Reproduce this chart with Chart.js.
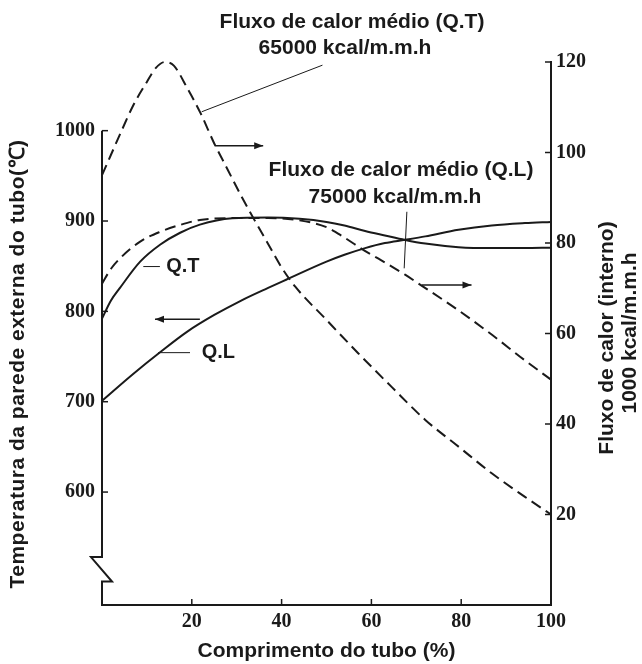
<!DOCTYPE html>
<html>
<head>
<meta charset="utf-8">
<title>Temperatura da parede externa do tubo</title>
<script src="https://cdn.jsdelivr.net/npm/chart.js@4.4.1/dist/chart.umd.min.js"></script>
<style>
    body { margin: 0; background: #fff; }
    #chart { display: block; }
</style>
</head>
<body>
<canvas id="chart" width="642" height="664"></canvas>
<script>
// marcas dos eixos
const xTicks = [20, 40, 60, 80, 100];
const tempTicks = [600, 700, 800, 900, 1000];
const fluxTicks = [20, 40, 60, 80, 100, 120];

// fluxo de calor Q.T (tracejado, eixo direito)
const qtFluxX = [0, 2, 4, 7, 10, 12, 14, 16, 19, 22, 25, 28, 31, 34, 37, 40, 43, 50, 57, 64.5, 72, 79.4, 86.8, 94.2, 100];
const qtFluxY = [95, 99.5, 104, 110.5, 115.6, 118.7, 120, 119.2, 114.2, 108.6, 102, 96.2, 90.4, 85, 79.8, 74.6, 70.4, 63, 55.7, 48.2, 40.9, 35, 29.1, 23.9, 20];

// fluxo de calor Q.L (tracejado, eixo direito)
const qlFluxX = [0, 2, 4, 8.5, 13, 17.4, 21.8, 29, 37, 44, 50, 54, 58, 63, 67.5, 71, 79, 87, 94, 100];
const qlFluxY = [71, 74.3, 76.6, 80.3, 82.5, 84, 85.1, 85.5, 85.5, 85, 83.5, 81.2, 78.6, 75.7, 73, 70.7, 65.4, 59.6, 54.2, 49.8];

// temperatura da parede com Q.T (linha cheia, eixo esquerdo)
const qtTempX = [0, 2, 4, 8.5, 13, 17.4, 21.8, 29, 37, 44, 50, 54, 58.6, 63, 67.5, 72, 79.4, 86.8, 94, 100];
const qtTempY = [792, 812, 826, 855, 874, 887, 896, 903, 904, 902.5, 899, 895, 889, 884, 879, 875, 871, 870, 870, 870.5];

// temperatura da parede com Q.L (linha cheia, eixo esquerdo)
const qlTempX = [0, 7, 13, 19, 25, 31, 37, 41, 50, 54, 58.6, 63, 67.5, 72, 79.4, 86.8, 94.2, 100];
const qlTempY = [701, 731, 755, 777.6, 796, 812, 826, 835, 855, 862.6, 870, 875.6, 879.2, 883, 890.3, 895.1, 897.7, 899];

const ink = '#1a1a1a';
const sansBold = 'bold 21px "Liberation Sans", Arial, sans-serif';
const tickFont = { family: '"Liberation Serif", "Times New Roman", serif', size: 20, weight: 'bold' };

function toPoints(xs, ys) {
    return xs.map((x, i) => ({ x: x, y: ys[i] }));
}

function arrow(ctx, x1, y1, x2, y2) {
    ctx.beginPath();
    ctx.moveTo(x1, y1);
    ctx.lineTo(x2, y2);
    ctx.stroke();
    const a = Math.atan2(y2 - y1, x2 - x1);
    ctx.beginPath();
    ctx.moveTo(x2, y2);
    ctx.lineTo(x2 - 9 * Math.cos(a) + 3.5 * Math.sin(a), y2 - 9 * Math.sin(a) - 3.5 * Math.cos(a));
    ctx.lineTo(x2 - 9 * Math.cos(a) - 3.5 * Math.sin(a), y2 - 9 * Math.sin(a) + 3.5 * Math.cos(a));
    ctx.closePath();
    ctx.fill();
}

// eixo esquerdo com quebra, marcas internas, setas e textos
const annotations = {
    id: 'annotations',
    afterDraw(chart) {
        const ctx = chart.ctx;
        const sx = chart.scales.x;
        const st = chart.scales.yTemp;
        const sf = chart.scales.yFlux;
        const area = chart.chartArea;

        ctx.save();
        ctx.strokeStyle = ink;
        ctx.fillStyle = ink;
        ctx.lineWidth = 2;

        // eixo esquerdo (começa em 1000, com quebra perto da base)
        const ax = area.left;
        ctx.beginPath();
        ctx.moveTo(ax, st.getPixelForValue(1000));
        ctx.lineTo(ax, st.getPixelForValue(528));
        ctx.lineTo(ax - 11, st.getPixelForValue(528));
        ctx.lineTo(ax + 10, st.getPixelForValue(501));
        ctx.lineTo(ax, st.getPixelForValue(501));
        ctx.lineTo(ax, area.bottom);
        ctx.stroke();

        // marcas internas
        ctx.lineWidth = 1.5;
        tempTicks.forEach(v => {
            const y = st.getPixelForValue(v);
            ctx.beginPath(); ctx.moveTo(ax, y); ctx.lineTo(ax + 6, y); ctx.stroke();
        });
        fluxTicks.forEach(v => {
            const y = sf.getPixelForValue(v);
            ctx.beginPath(); ctx.moveTo(area.right, y); ctx.lineTo(area.right - 6, y); ctx.stroke();
        });
        xTicks.forEach(v => {
            const x = sx.getPixelForValue(v);
            ctx.beginPath(); ctx.moveTo(x, area.bottom); ctx.lineTo(x, area.bottom - 6); ctx.stroke();
        });

        // linhas de chamada e setas
        ctx.lineWidth = 1;
        ctx.beginPath();
        ctx.moveTo(sx.getPixelForValue(49.1), sf.getPixelForValue(119.3));
        ctx.lineTo(sx.getPixelForValue(22.2), sf.getPixelForValue(109));
        ctx.moveTo(sx.getPixelForValue(67.9), sf.getPixelForValue(86.9));
        ctx.lineTo(sx.getPixelForValue(67.3), sf.getPixelForValue(74.4));
        ctx.moveTo(sx.getPixelForValue(9.2), st.getPixelForValue(849.6));
        ctx.lineTo(sx.getPixelForValue(12.9), st.getPixelForValue(849.6));
        ctx.moveTo(sx.getPixelForValue(12.5), st.getPixelForValue(754.3));
        ctx.lineTo(sx.getPixelForValue(19.6), st.getPixelForValue(754.3));
        ctx.stroke();

        ctx.lineWidth = 1.5;
        arrow(ctx, sx.getPixelForValue(25.2), sf.getPixelForValue(101.5), sx.getPixelForValue(35.9), sf.getPixelForValue(101.5));
        arrow(ctx, sx.getPixelForValue(71.2), sf.getPixelForValue(70.7), sx.getPixelForValue(82.3), sf.getPixelForValue(70.7));
        arrow(ctx, sx.getPixelForValue(21.8), st.getPixelForValue(791.4), sx.getPixelForValue(11.8), st.getPixelForValue(791.4));

        // textos
        ctx.font = sansBold;
        ctx.textAlign = 'center';
        ctx.textBaseline = 'middle';
        ctx.fillText('Fluxo de calor médio (Q.T)', 352, 22);
        ctx.fillText('65000 kcal/m.m.h', 345, 48);
        ctx.fillText('Fluxo de calor médio (Q.L)', 401, 170);
        ctx.fillText('75000 kcal/m.m.h', 395, 197);

        ctx.font = 'bold 20px "Liberation Sans", Arial, sans-serif';
        ctx.textAlign = 'left';
        ctx.fillText('Q.T', sx.getPixelForValue(14.3), st.getPixelForValue(849.6));
        ctx.fillText('Q.L', sx.getPixelForValue(22.2), st.getPixelForValue(754.3));

        // títulos dos eixos verticais
        ctx.font = sansBold;
        ctx.textAlign = 'center';
        ctx.save();
        ctx.translate(18, 364);
        ctx.rotate(-Math.PI / 2);
        ctx.letterSpacing = '0.5px';
        ctx.fillText('Temperatura da parede externa do tubo(℃)', 0, 0);
        ctx.restore();

        ctx.save();
        ctx.translate(607, 338);
        ctx.rotate(-Math.PI / 2);
        ctx.fillText('Fluxo de calor (interno)', 0, 0);
        ctx.restore();

        ctx.save();
        ctx.translate(630, 333);
        ctx.rotate(-Math.PI / 2);
        ctx.fillText('1000 kcal/m.m.h', 0, 0);
        ctx.restore();

        ctx.restore();
    }
};

function renderChart() {
    const canvas = document.getElementById('chart');

    const fluxLine = { borderColor: ink, borderWidth: 2, borderDash: [11, 6], pointRadius: 0, fill: false, cubicInterpolationMode: 'monotone', clip: 6, yAxisID: 'yFlux' };
    const tempLine = { borderColor: ink, borderWidth: 2, pointRadius: 0, fill: false, cubicInterpolationMode: 'monotone', clip: 6, yAxisID: 'yTemp' };
    const plainLabel = v => String(v);

    new Chart(canvas, {
        type: 'line',
        data: {
            datasets: [
                Object.assign({ label: 'Fluxo de calor médio (Q.T)', data: toPoints(qtFluxX, qtFluxY) }, fluxLine),
                Object.assign({ label: 'Fluxo de calor médio (Q.L)', data: toPoints(qlFluxX, qlFluxY) }, fluxLine),
                Object.assign({ label: 'Q.T', data: toPoints(qtTempX, qtTempY) }, tempLine),
                Object.assign({ label: 'Q.L', data: toPoints(qlTempX, qlTempY) }, tempLine)
            ]
        },
        options: {
            responsive: false,
            animation: false,
            layout: { padding: { top: 62 } },
            plugins: {
                legend: { display: false },
                tooltip: { enabled: false }
            },
            scales: {
                x: {
                    type: 'linear',
                    position: 'bottom',
                    min: 0,
                    max: 100,
                    afterBuildTicks: s => { s.ticks = xTicks.map(v => ({ value: v })); },
                    afterFit: s => { s.height = 59; },
                    grid: { display: false, drawTicks: false },
                    border: { display: true, color: ink, width: 2 },
                    ticks: { color: ink, font: tickFont, padding: 5, maxRotation: 0, callback: plainLabel },
                    title: {
                        display: true,
                        text: 'Comprimento do tubo (%)',
                        color: ink,
                        font: { family: '"Liberation Sans", Arial, sans-serif', size: 21, weight: 'bold' },
                        padding: { top: 0, bottom: 0 }
                    }
                },
                yTemp: {
                    type: 'linear',
                    position: 'left',
                    min: 475,
                    max: 1076,
                    afterBuildTicks: s => { s.ticks = tempTicks.map(v => ({ value: v })); },
                    afterFit: s => { s.width = 102; },
                    grid: { display: false, drawTicks: false },
                    border: { display: false },
                    ticks: { color: ink, font: tickFont, padding: 7, callback: plainLabel }
                },
                yFlux: {
                    type: 'linear',
                    position: 'right',
                    min: 0,
                    max: 120,
                    afterBuildTicks: s => { s.ticks = fluxTicks.map(v => ({ value: v })); },
                    afterFit: s => { s.width = 91; },
                    grid: { display: false, drawTicks: false },
                    border: { display: true, color: ink, width: 2 },
                    ticks: { color: ink, font: tickFont, padding: 5, callback: plainLabel }
                }
            }
        },
        plugins: [annotations]
    });

    console.log('Chart rendered.');
}

document.addEventListener('DOMContentLoaded', renderChart);
</script>
</body>
</html>
